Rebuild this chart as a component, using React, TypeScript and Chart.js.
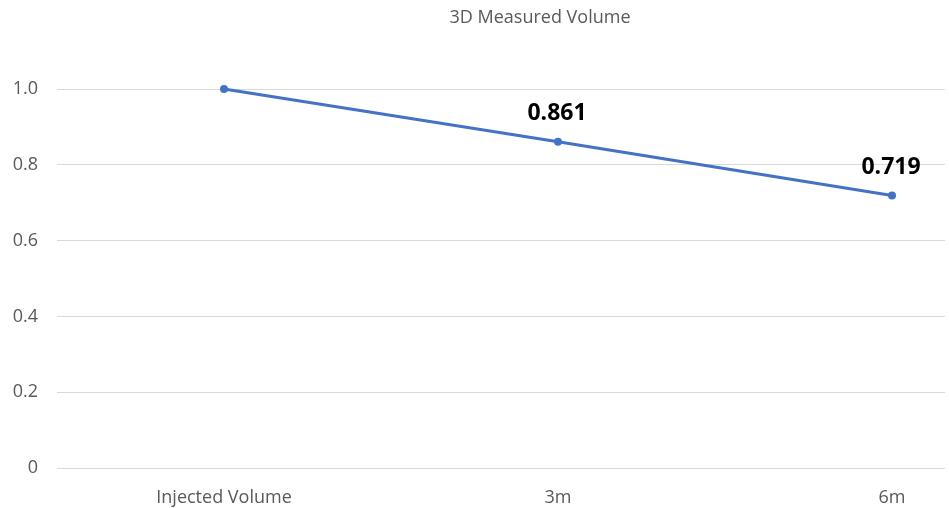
import React, { useEffect, useRef } from "react";
import { Chart, registerables } from "chart.js";

Chart.register(...registerables);

const categories = ["Injected Volume", "3m", "6m"];
const values = [1.0, 0.861, 0.719];
const labelTexts = ["", "0.861", "0.719"];
const yTicks = [0, 0.2, 0.4, 0.6, 0.8, 1.0];
const titleText = "3D Measured Volume";

const FONT = "'Open Sans', 'Noto Sans', sans-serif";

const dataLabelPlugin = {
  id: "dataLabels",
  afterDatasetsDraw(chart: any) {
    const ctx = chart.ctx;
    const meta = chart.getDatasetMeta(0);
    ctx.save();
    ctx.font = `bold 23px ${FONT}`;
    ctx.fillStyle = "#000000";
    ctx.textAlign = "center";
    ctx.textBaseline = "middle";
    meta.data.forEach((pt: any, i: number) => {
      const t = labelTexts[i];
      if (!t) return;
      ctx.fillText(t, pt.x - 1, pt.y - 28);
    });
    ctx.restore();
  },
};

const titlePlugin = {
  id: "customTitle",
  afterDraw(chart: any) {
    const ctx = chart.ctx;
    ctx.save();
    ctx.font = `18px ${FONT}`;
    ctx.fillStyle = "#595959";
    ctx.textAlign = "center";
    ctx.textBaseline = "middle";
    ctx.fillText(titleText, 540, 18);
    ctx.restore();
  },
};

export default function App() {
  const ref = useRef<HTMLCanvasElement>(null);
  useEffect(() => {
    if (!ref.current) return;
    const chart = new Chart(ref.current, {
      type: "line",
      data: {
        datasets: [
          {
            data: values.map((v, i) => ({ x: i, y: v })),
            borderColor: "#4472C4",
            backgroundColor: "#4472C4",
            borderWidth: 3,
            pointRadius: 4,
            pointBackgroundColor: "#4472C4",
            pointBorderWidth: 0,
            tension: 0,
            clip: false,
          },
        ],
      },
      options: {
        responsive: false,
        animation: false,
        layout: { padding: { top: 89, left: 0, right: 0, bottom: 0 } },
        plugins: {
          legend: { display: false },
          tooltip: { enabled: false },
          title: { display: false },
        },
        scales: {
          x: {
            type: "linear",
            min: -0.5,
            max: -0.5 + (945 - 57) / 334,
            grid: { display: false, drawTicks: false },
            border: { display: false },
            afterBuildTicks: (scale: any) => {
              scale.ticks = categories.map((_, i) => ({ value: i }));
            },
            afterFit: (scale: any) => {
              scale.height = 40;
            },
            ticks: {
              autoSkip: false,
              maxRotation: 0,
              padding: 19,
              color: "#595959",
              font: { family: FONT, size: 18 },
              callback: (v: any) => categories[v as number] ?? "",
            },
          },
          y: {
            min: 0,
            max: 1.0,
            grid: { color: "#d9d9d9", lineWidth: 1, drawTicks: false },
            border: { display: false },
            afterBuildTicks: (scale: any) => {
              scale.ticks = yTicks.map((v) => ({ value: v }));
            },
            afterFit: (scale: any) => {
              scale.width = 57;
            },
            ticks: {
              padding: 19,
              color: "#595959",
              font: { family: FONT, size: 18 },
              callback: (v: any) => (v === 0 ? "0" : Number(v).toFixed(1)),
            },
          },
        },
      },
      plugins: [dataLabelPlugin, titlePlugin],
    } as any);
    return () => chart.destroy();
  }, []);
  return (
    <div style={{ position: "fixed", left: 0, top: 0, width: 949, height: 508, background: "#fff" }}>
      <canvas ref={ref} width={949} height={508} />
    </div>
  );
}
